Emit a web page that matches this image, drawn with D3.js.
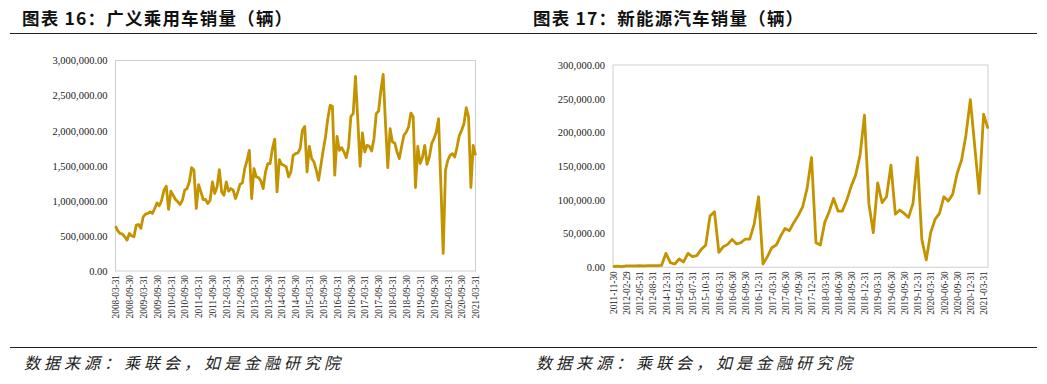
<!DOCTYPE html>
<html>
<head>
<meta charset="utf-8">
<script src="https://cdn.jsdelivr.net/npm/d3@7"></script>
<style>
    body { margin: 0; background: #fff; }
    svg { display: block; }
    .title { font-family: "Noto Sans CJK SC", sans-serif; font-weight: 700; font-size: 17.5px; fill: #111; letter-spacing: 1.2px; }
    .source { font-family: "Noto Sans CJK SC", sans-serif; font-style: italic; font-size: 16px; fill: #222; letter-spacing: 4px; }
    .axis text { font-family: "Liberation Serif", "Times New Roman", serif; fill: #222; }
    .y-axis text { font-size: 10.5px; }
    .x-axis text { font-size: 9.3px; }
    .axis .domain { display: none; }
</style>
</head>
<body>
<svg id="page" width="1047" height="384"></svg>
<script>
// 图表16：广义乘用车销量（辆），月度，2008-03 起
const carTickLabels = [
    '2008-03-31', '2008-09-30', '2009-03-31', '2009-09-30', '2010-03-31', '2010-09-30',
    '2011-03-31', '2011-09-30', '2012-03-31', '2012-09-30', '2013-03-31', '2013-09-30',
    '2014-03-31', '2014-09-30', '2015-03-31', '2015-09-30', '2016-03-31', '2016-09-30',
    '2017-03-31', '2017-09-30', '2018-03-31', '2018-09-30', '2019-03-31', '2019-09-30',
    '2020-03-31', '2020-09-30', '2021-03-31'
];
const carSales = [
    640000, 573000, 535000, 526000, 488000, 440000, 535000, 502000, 488000, 654000,
    663000, 607000, 772000, 810000, 820000, 843000, 820000, 891000, 971000, 929000,
    1009000, 1152000, 1208000, 877000, 1137000, 1080000, 1019000, 986000, 948000, 1009000,
    1152000, 1175000, 1270000, 1474000, 1436000, 891000, 1232000, 1128000, 1019000, 1019000,
    962000, 1009000, 1270000, 1104000, 1199000, 1445000, 1128000, 1080000, 1270000, 1137000,
    1175000, 1152000, 1033000, 1128000, 1237000, 1256000, 1460000, 1578000, 1720000, 1033000,
    1460000, 1341000, 1332000, 1284000, 1175000, 1412000, 1531000, 1531000, 1744000, 1880000,
    1128000, 1588000, 1521000, 1507000, 1483000, 1341000, 1412000, 1649000, 1673000, 1682000,
    1744000, 2005000, 2061000, 1412000, 1777000, 1602000, 1554000, 1436000, 1294000, 1507000,
    1720000, 1910000, 2170000, 2360000, 2346000, 1365000, 1919000, 1720000, 1758000, 1697000,
    1616000, 1768000, 2204000, 2242000, 2772000, 2150000, 1493000, 1967000, 1697000, 1791000,
    1777000, 1711000, 1886000, 2242000, 2280000, 2573000, 2801000, 2100000, 1474000, 2028000,
    1839000, 1824000, 1697000, 1602000, 1777000, 1934000, 1981000, 2052000, 2251000, 2194000,
    1190000, 1777000, 1531000, 1616000, 1791000, 1521000, 1625000, 1815000, 1886000, 1981000,
    2170000, 1220000, 251000, 1436000, 1578000, 1649000, 1673000, 1625000, 1768000, 1934000,
    2005000, 2099000, 2327000, 2194000, 1190000, 1791000, 1649000
];
const carYTicks = [0, 500000, 1000000, 1500000, 2000000, 2500000, 3000000];

// 图表17：新能源汽车销量（辆），日期不连续，每 3 期一个标签
const nevTickLabels = [
    '2011-11-30', '2012-02-29', '2012-05-31', '2012-08-31', '2014-12-31', '2015-03-31',
    '2015-07-31', '2015-10-31', '2016-03-31', '2016-06-30', '2016-09-30', '2016-12-31',
    '2017-03-31', '2017-06-30', '2017-09-30', '2017-12-31', '2018-03-31', '2018-06-30',
    '2018-09-30', '2018-12-31', '2019-03-31', '2019-06-30', '2019-09-30', '2019-12-31',
    '2020-03-31', '2020-06-30', '2020-09-30', '2020-12-31', '2021-03-31'
];
const nevSales = [
    1200, 1800, 1000, 2000, 2200, 2100, 2300, 2200, 2400, 2500,
    2600, 2800, 20700, 6900, 4900, 12300, 7900, 20700, 15800, 17300,
    26600, 32600, 76000, 82400, 22200, 30600, 34000, 41400, 34500, 36500,
    41900, 41900, 64000, 104600, 4900, 15800, 29100, 33000, 46400, 57700,
    54300, 66600, 77000, 89800, 117000, 162800, 36500, 33000, 66600, 82400,
    102100, 83400, 83400, 99700, 120400, 136700, 166300, 225500, 94700, 51300,
    125300, 95700, 104600, 151500, 78900, 84900, 79900, 74000, 94700, 162800,
    41400, 10900, 51300, 71000, 79900, 104600, 98200, 108500, 139100, 158900,
    195900, 248700, 179000, 109500, 227000, 205700
];
const nevYTicks = [0, 50000, 100000, 150000, 200000, 250000, 300000];

class SalesLineChart {
    constructor(_config, _data) {
        this.config = {
            svg: _config.svg,
            left: _config.left,
            top: _config.top,
            width: _config.width,
            height: _config.height,
            yMax: _config.yMax,
            yTicks: _config.yTicks,
            tickLabels: _config.tickLabels,
            tickEvery: _config.tickEvery,
            color: _config.color || '#c49300'
        }
        this.data = _data;
        this.initVis();
    }

    initVis() {
        let vis = this;

        vis.chart = vis.config.svg.append('g')
            .attr('transform', `translate(${vis.config.left},${vis.config.top})`);

        vis.xScale = d3.scalePoint()
            .domain(d3.range(vis.data.length))
            .range([0, vis.config.width]);

        vis.yScale = d3.scaleLinear()
            .domain([0, vis.config.yMax])
            .range([vis.config.height, 0]);

        // light grey frame round the plot area
        vis.chart.append('rect')
            .attr('width', vis.config.width)
            .attr('height', vis.config.height)
            .attr('fill', 'none')
            .attr('stroke', '#cfcfcf')
            .attr('stroke-width', 1);

        vis.yAxis = d3.axisLeft(vis.yScale)
            .tickValues(vis.config.yTicks)
            .tickSize(0)
            .tickPadding(8)
            .tickFormat(d3.format(',.2f'));

        let tickIdx = vis.config.tickLabels.map((d, i) => i * vis.config.tickEvery);
        vis.xAxis = d3.axisBottom(vis.xScale)
            .tickValues(tickIdx)
            .tickSize(0)
            .tickFormat(d => vis.config.tickLabels[d / vis.config.tickEvery]);

        vis.chart.append('g')
            .attr('class', 'axis y-axis')
            .call(vis.yAxis);

        vis.chart.append('g')
            .attr('class', 'axis x-axis')
            .attr('transform', `translate(0,${vis.config.height})`)
            .call(vis.xAxis)
            .selectAll('text')
            .attr('y', 0)
            .attr('x', -4)
            .attr('dy', '0.35em')
            .attr('transform', 'rotate(-90)')
            .style('text-anchor', 'end');

        vis.line = d3.line()
            .x((d, i) => vis.xScale(i))
            .y(d => vis.yScale(d));

        vis.chart.append('path')
            .datum(vis.data)
            .attr('fill', 'none')
            .attr('stroke', vis.config.color)
            .attr('stroke-width', 2.8)
            .attr('stroke-linejoin', 'round')
            .attr('d', vis.line);
    }
}

const svg = d3.select('#page');

// headers and footers
svg.append('text').attr('class', 'title').attr('x', 22).attr('y', 25).text('图表 16：广义乘用车销量（辆）');
svg.append('text').attr('class', 'title').attr('x', 533).attr('y', 25).text('图表 17：新能源汽车销量（辆）');
svg.append('line').attr('x1', 10).attr('x2', 1037).attr('y1', 33.5).attr('y2', 33.5)
    .attr('stroke', '#222').attr('stroke-width', 1.2);
svg.append('line').attr('x1', 10).attr('x2', 1037).attr('y1', 347.5).attr('y2', 347.5)
    .attr('stroke', '#222').attr('stroke-width', 1.2);
svg.append('text').attr('class', 'source').attr('x', 24).attr('y', 369).text('数据来源：乘联会，如是金融研究院');
svg.append('text').attr('class', 'source').attr('x', 536).attr('y', 369).text('数据来源：乘联会，如是金融研究院');

new SalesLineChart({
    svg: svg, left: 115.5, top: 60.5, width: 360, height: 210.5,
    yMax: 3000000, yTicks: carYTicks, tickLabels: carTickLabels, tickEvery: 6
}, carSales);

new SalesLineChart({
    svg: svg, left: 613, top: 65, width: 375, height: 202.3,
    yMax: 300000, yTicks: nevYTicks, tickLabels: nevTickLabels, tickEvery: 3
}, nevSales);
</script>
</body>
</html>
